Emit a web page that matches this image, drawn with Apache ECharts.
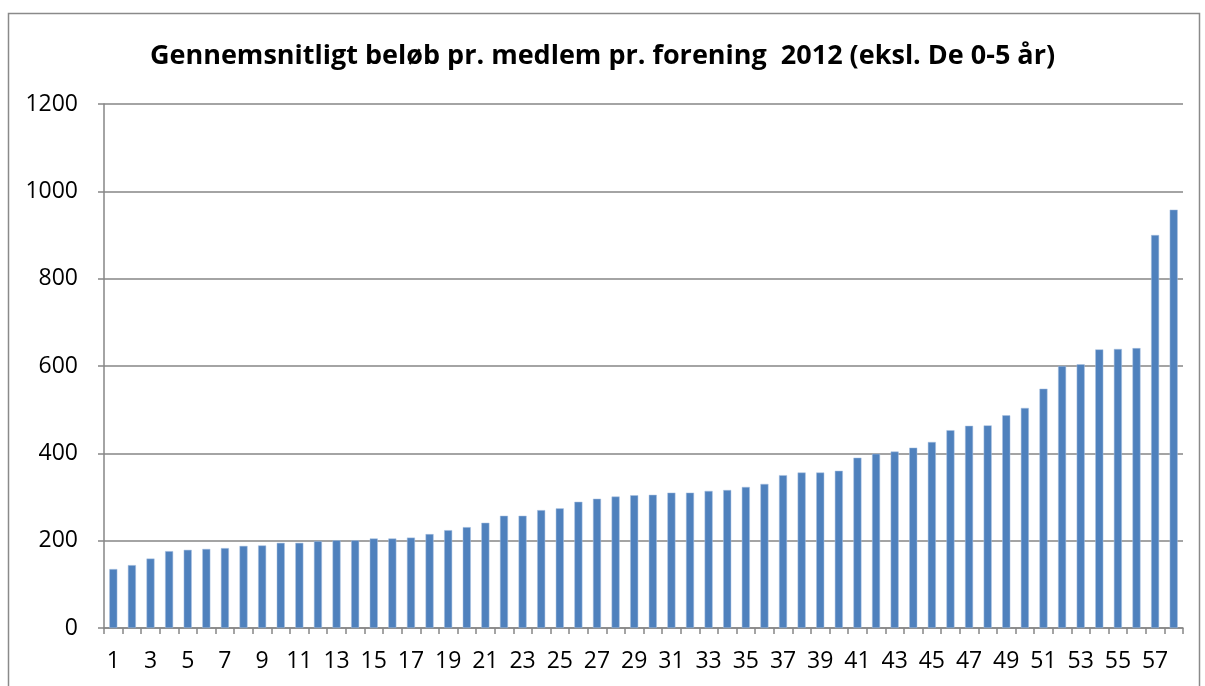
<!DOCTYPE html>
<html><head><meta charset="utf-8">
<script src="https://cdn.jsdelivr.net/npm/echarts@6/dist/echarts.min.js"></script>
<style>html,body{margin:0;padding:0;background:#fff}#c{width:1205px;height:686px}</style>
</head><body><div id="c"></div>
<script>
const titleText = 'Gennemsnitligt beløb pr. medlem pr. forening  2012 (eksl. De 0-5 år)';
const categories = [];
for (let i = 1; i <= 58; i++) categories.push(String(i));
const values = [135,144,159,176,179,181,183,188,189,195,195,199,201,201,205,205,207,215,224,231,
  241,257,257,270,274,289,296,301,304,305,310,310,314,316,323,330,350,356,356,360,
  390,399,404,413,426,453,463,464,487,504,548,600,604,638,639,641,900,958];
const yTicks = {min:0, max:1200, interval:200};

const FONT = '"Open Sans", Lato, sans-serif';
const chart = echarts.init(document.getElementById('c'));
chart.setOption({
  animation:false,
  backgroundColor:'#fff',
  graphic:[{type:'rect', shape:{x:8.5,y:13.5,width:1191,height:690}, style:{fill:'none', stroke:'#8a8a8a', lineWidth:1.5}, silent:true}],
  title:{text:titleText, left:'center', top:38, textStyle:{fontFamily:FONT, fontSize:27, fontWeight:'bold', color:'#000'}},
  grid:{left:104, right:22, top:104, bottom:58},
  xAxis:{type:'category', data:categories, boundaryGap:true,
    axisLine:{lineStyle:{color:'#868686', width:1.5}},
    axisTick:{show:true, length:6, interval:0, lineStyle:{color:'#868686', width:1.5}},
    axisLabel:{interval:1, fontFamily:FONT, fontSize:23, color:'#000', margin:22}},
  yAxis:{type:'value', min:yTicks.min, max:yTicks.max, interval:yTicks.interval,
    axisLine:{show:true, lineStyle:{color:'#868686', width:1.5}},
    axisTick:{show:true, length:6, lineStyle:{color:'#868686', width:1.5}},
    splitLine:{lineStyle:{color:'#868686', width:1.5}},
    axisLabel:{fontFamily:FONT, fontSize:23, color:'#000', margin:26, formatter:v => String(v)}},
  series:[{type:'bar', data:values, barWidth:8, itemStyle:{color:'#4F81BD', borderColor:'#A9C0E0', borderWidth:0.5}}]
});
</script></body></html>
